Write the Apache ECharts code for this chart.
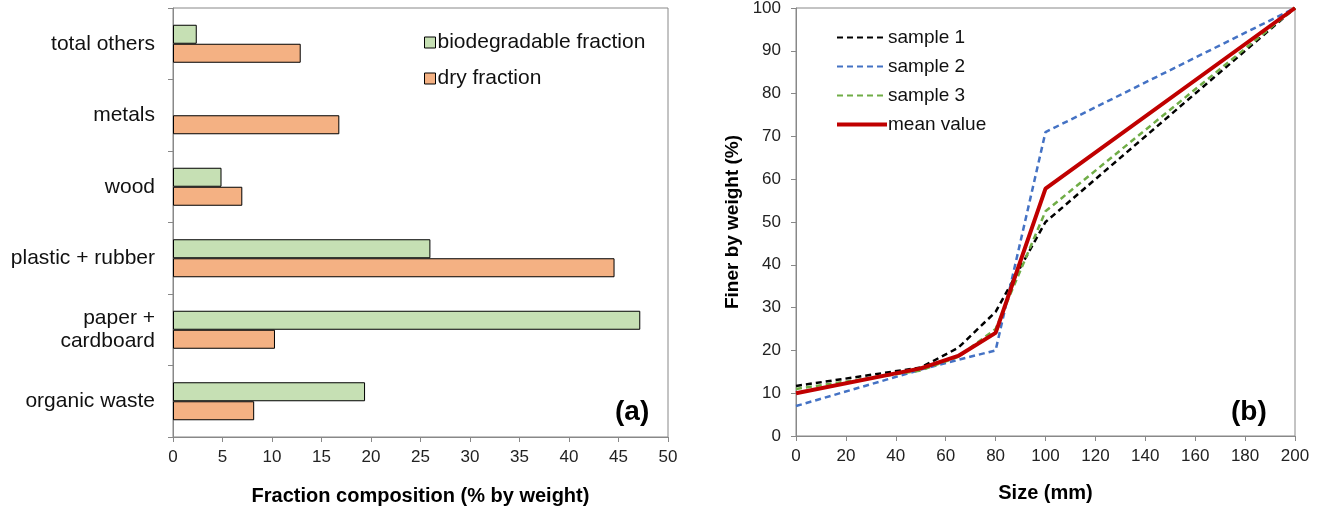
<!DOCTYPE html>
<html>
<head>
<meta charset="utf-8">
<script src="https://cdn.jsdelivr.net/npm/echarts@6/dist/echarts.min.js"></script>
<style>
  html, body { margin: 0; padding: 0; background: #fff; }
  #demo { width: 1320px; height: 507px; }
</style>
</head>
<body>
<div id="demo"></div>
<script>
// (a) composition, bottom to top
const categories = ['organic waste', 'paper +\ncardboard', 'plastic + rubber', 'wood', 'metals', 'total others']
const bioFraction = [19.4, 47.2, 26.0, 4.9, null, 2.4]
const dryFraction = [8.2, 10.3, 44.6, 7.0, 16.8, 12.9]

// (b) grading curves
const sizes = [0, 50, 65, 80, 100, 200]
const sample1 = [11.7, 16.0, 20.6, 29.0, 50.0, 100]
const sample2 = [7.0, 15.5, 17.8, 20.0, 71.0, 100]
const sample3 = [11.0, 15.3, 18.5, 25.0, 52.5, 100]
const meanValue = [10.0, 15.8, 18.7, 24.1, 57.8, 100]

const font = 'Liberation Sans, Arial, sans-serif'
const axisGray = '#888'
const tickLabel = { color: '#222', fontSize: 17, fontFamily: font, margin: 12 }
const nameStyle = { fontSize: 20, fontWeight: 'bold', color: '#000', fontFamily: font }

const pair = (xs, ys) => xs.map((x, i) => [x, ys[i]])

const chart = echarts.init(document.getElementById('demo'))
const option = {
  animation: false,
  textStyle: { fontFamily: font },
  title: [
    { text: '(a)', left: 610, top: 393, textStyle: { fontSize: 28, fontWeight: 'bold', color: '#000', fontFamily: font } },
    { text: '(b)', left: 1226, top: 393, textStyle: { fontSize: 28, fontWeight: 'bold', color: '#000', fontFamily: font } }
  ],
  legend: [
    {
      data: ['biodegradable fraction', 'dry fraction'],
      orient: 'vertical',
      left: 419,
      top: 27,
      itemGap: 15,
      icon: 'rect',
      itemWidth: 11,
      itemHeight: 11,
      itemStyle: { borderColor: '#000', borderWidth: 1 },
      textStyle: { fontSize: 21, color: '#111', fontFamily: font, padding: [0, 0, 0, -3] }
    },
    {
      data: [
        { name: 'sample 1' },
        { name: 'sample 2' },
        { name: 'sample 3' },
        { name: 'mean value', lineStyle: { width: 4 } }
      ],
      orient: 'vertical',
      left: 830,
      top: 23,
      itemGap: 10,
      itemWidth: 50,
      itemHeight: 19,
      itemStyle: { opacity: 0 },
      textStyle: { fontSize: 19, color: '#111', fontFamily: font, padding: [0, 0, 0, -4] }
    }
  ],
  grid: [
    { left: 173, right: 652, top: 8, bottom: 70, outerBoundsMode: 'none', show: true, borderColor: axisGray, borderWidth: 1 },
    { left: 796, right: 25, top: 8, bottom: 71, outerBoundsMode: 'none', show: true, borderColor: axisGray, borderWidth: 1 }
  ],
  xAxis: [
    {
      gridIndex: 0,
      type: 'value',
      min: 0,
      max: 50,
      interval: 5,
      splitLine: { show: false },
      axisLine: { show: true, lineStyle: { color: axisGray } },
      axisTick: { show: true, length: 5, lineStyle: { color: axisGray } },
      axisLabel: tickLabel,
      name: 'Fraction composition (% by weight)',
      nameLocation: 'middle',
      nameGap: 49,
      nameTextStyle: nameStyle
    },
    {
      gridIndex: 1,
      type: 'value',
      min: 0,
      max: 200,
      interval: 20,
      splitLine: { show: false },
      axisLine: { show: true, lineStyle: { color: axisGray } },
      axisTick: { show: true, length: 5, lineStyle: { color: axisGray } },
      axisLabel: tickLabel,
      name: 'Size (mm)',
      nameLocation: 'middle',
      nameGap: 47,
      nameTextStyle: nameStyle
    }
  ],
  yAxis: [
    {
      gridIndex: 0,
      type: 'category',
      data: categories,
      axisLine: { show: true, lineStyle: { color: axisGray } },
      axisTick: { show: true, length: 5, lineStyle: { color: axisGray } },
      axisLabel: { color: '#111', fontSize: 21, fontFamily: font, margin: 18, lineHeight: 23 }
    },
    {
      gridIndex: 1,
      type: 'value',
      min: 0,
      max: 100,
      interval: 10,
      splitLine: { show: false },
      axisLine: { show: true, lineStyle: { color: axisGray } },
      axisTick: { show: true, length: 5, lineStyle: { color: axisGray } },
      axisLabel: Object.assign({}, tickLabel, { margin: 15 }),
      name: 'Finer by weight (%)',
      nameLocation: 'middle',
      nameGap: 54,
      nameTextStyle: Object.assign({}, nameStyle, { fontSize: 19 })
    }
  ],
  series: [
    {
      name: 'biodegradable fraction',
      type: 'bar',
      xAxisIndex: 0,
      yAxisIndex: 0,
      data: bioFraction,
      barWidth: 19,
      barGap: '0%',
      itemStyle: { color: '#C6E0B4', borderColor: '#000', borderWidth: 1 }
    },
    {
      name: 'dry fraction',
      type: 'bar',
      xAxisIndex: 0,
      yAxisIndex: 0,
      data: dryFraction,
      barWidth: 19,
      barGap: '0%',
      itemStyle: { color: '#F4B183', borderColor: '#000', borderWidth: 1 }
    },
    {
      name: 'sample 1',
      type: 'line',
      xAxisIndex: 1,
      yAxisIndex: 1,
      data: pair(sizes, sample1),
      showSymbol: false,
      symbol: 'none',
      color: '#000',
      lineStyle: { color: '#000', width: 2.5, type: [6, 4] }
    },
    {
      name: 'sample 2',
      type: 'line',
      xAxisIndex: 1,
      yAxisIndex: 1,
      data: pair(sizes, sample2),
      showSymbol: false,
      symbol: 'none',
      color: '#4472C4',
      lineStyle: { color: '#4472C4', width: 2.5, type: [6, 4] }
    },
    {
      name: 'sample 3',
      type: 'line',
      xAxisIndex: 1,
      yAxisIndex: 1,
      data: pair(sizes, sample3),
      showSymbol: false,
      symbol: 'none',
      color: '#70AD47',
      lineStyle: { color: '#70AD47', width: 2.5, type: [6, 4] }
    },
    {
      name: 'mean value',
      type: 'line',
      xAxisIndex: 1,
      yAxisIndex: 1,
      data: pair(sizes, meanValue),
      showSymbol: false,
      symbol: 'none',
      color: '#C00000',
      lineStyle: { color: '#C00000', width: 4 }
    }
  ]
}
chart.setOption(option)
</script>
</body>
</html>
